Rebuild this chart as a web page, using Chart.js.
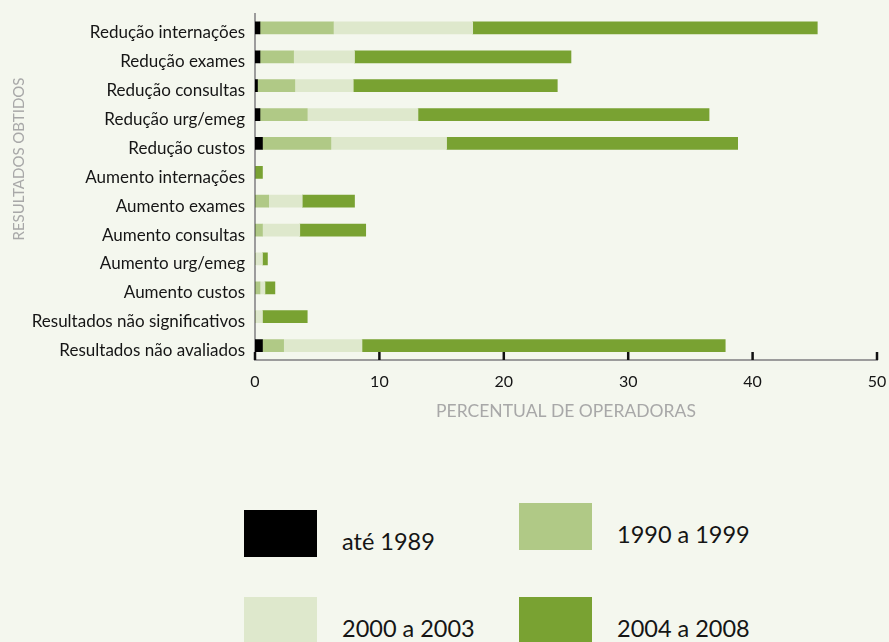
<!DOCTYPE html>
<html lang="pt">
<head>
<meta charset="utf-8">
<title>Resultados obtidos</title>
<script src="https://cdn.jsdelivr.net/npm/chart.js@4/dist/chart.umd.min.js"></script>
<style>
  html, body { margin: 0; padding: 0; background: #f4f7ee; }
  body { width: 889px; height: 642px; overflow: hidden; position: relative; font-family: Lato, sans-serif; }
  #wrap { position: absolute; left: 0; top: 0; width: 889px; height: 440px; }
  .item { position: absolute; display: flex; align-items: center; }
  .item .box { width: 73px; height: 47px; flex: none; }
  .item span { margin-left: 25px; font-size: 23.5px; color: #151515; position: relative; top: 7px; white-space: nowrap; }
</style>
</head>
<body>
<div id="wrap"><canvas id="chart"></canvas></div>
<div id="legend"></div>

<script>
const categorias = [
  "Redução internações",
  "Redução exames",
  "Redução consultas",
  "Redução urg/emeg",
  "Redução custos",
  "Aumento internações",
  "Aumento exames",
  "Aumento consultas",
  "Aumento urg/emeg",
  "Aumento custos",
  "Resultados não significativos",
  "Resultados não avaliados"
];

const periodos = ["até 1989", "1990 a 1999", "2000 a 2003", "2004 a 2008"];
const cores = ["#000000", "#b0c986", "#dee8cc", "#79a232"];

// percentual de operadoras por período de início do programa
const ate1989   = [0.4, 0.4, 0.2, 0.4, 0.6, 0,   0,   0,   0,   0,   0,   0.6];
const de1990    = [5.9, 2.7, 3.0, 3.8, 5.5, 0,   1.1, 0.6, 0,   0.4, 0,   1.7];
const de2000    = [11.2, 4.9, 4.7, 8.9, 9.3, 0,  2.7, 3.0, 0.6, 0.4, 0.6, 6.3];
const de2004    = [27.7, 17.4, 16.4, 23.4, 23.4, 0.6, 4.2, 5.3, 0.4, 0.8, 3.6, 29.2];

const ticksX = [0, 10, 20, 30, 40, 50];
const tituloX = "PERCENTUAL DE OPERADORAS";
const tituloY = "RESULTADOS OBTIDOS";

const series = [ate1989, de1990, de2000, de2004];

// marcas do eixo x voltadas para dentro do gráfico
const marcasInternas = {
  id: "marcasInternas",
  afterDatasetsDraw(chart) {
    const { ctx, chartArea, scales } = chart;
    ctx.save();
    ctx.strokeStyle = "#111";
    ctx.lineWidth = 2.5;
    scales.x.ticks.forEach(t => {
      const x = scales.x.getPixelForValue(t.value);
      ctx.beginPath();
      ctx.moveTo(x, chartArea.bottom);
      ctx.lineTo(x, chartArea.bottom - 8);
      ctx.stroke();
    });
    ctx.restore();
  }
};

// título do eixo y (girado)
const tituloEixoY = {
  id: "tituloEixoY",
  afterDraw(chart) {
    const { ctx, chartArea } = chart;
    ctx.save();
    ctx.translate(19, chartArea.top + chartArea.height * 0.42);
    ctx.rotate(-Math.PI / 2);
    ctx.font = "15px Lato, sans-serif";
    ctx.fillStyle = "#a8a8a8";
    ctx.textAlign = "center";
    ctx.textBaseline = "middle";
    ctx.fillText(tituloY, 0, 0);
    ctx.restore();
  }
};

const chart = new Chart(document.getElementById("chart"), {
  type: "bar",
  data: {
    labels: categorias,
    datasets: series.map((data, i) => ({
      label: periodos[i],
      data,
      backgroundColor: cores[i],
      borderWidth: 0,
      barThickness: 12
    }))
  },
  options: {
    indexAxis: "y",
    responsive: true,
    maintainAspectRatio: false,
    animation: false,
    layout: { padding: { top: 13.5, right: 12, left: 0, bottom: 0 } },
    plugins: {
      legend: { display: false },
      tooltip: { enabled: false }
    },
    scales: {
      x: {
        stacked: true,
        min: 0,
        max: 50,
        afterBuildTicks: s => { s.ticks = ticksX.map(v => ({ value: v })); },
        afterFit: s => { s.height = 80; s.paddingLeft = 0; s.paddingRight = 0; },
        grid: { display: false, drawTicks: false },
        border: { display: true, color: "#9c9c9c", width: 2 },
        ticks: { color: "#151515", font: { family: "Lato", size: 16 }, padding: 12 },
        title: {
          display: true,
          text: tituloX,
          color: "#a8a8a8",
          font: { family: "Lato", size: 17.5 },
          padding: { top: 18, bottom: 18 }
        }
      },
      y: {
        stacked: true,
        afterFit: s => { s.width = 255; s.paddingTop = 0; s.paddingBottom = 0; },
        grid: { display: false, drawTicks: false },
        border: { display: true, color: "#9c9c9c", width: 2 },
        ticks: { color: "#151515", font: { family: "Lato", size: 17 }, padding: 10, labelOffset: 5 }
      }
    }
  },
  plugins: [marcasInternas, tituloEixoY]
});

// legenda em HTML, montada a partir dos datasets
const posLegenda = [
  { left: 244, top: 510 },
  { left: 519, top: 503 },
  { left: 244, top: 597 },
  { left: 519, top: 597 }
];
const legenda = document.getElementById("legend");
chart.data.datasets.forEach((ds, i) => {
  const item = document.createElement("div");
  item.className = "item";
  item.style.left = posLegenda[i].left + "px";
  item.style.top = posLegenda[i].top + "px";
  item.innerHTML = `<div class="box" style="background:${ds.backgroundColor}"></div><span>${ds.label}</span>`;
  legenda.appendChild(item);
});
</script>
</body>
</html>
